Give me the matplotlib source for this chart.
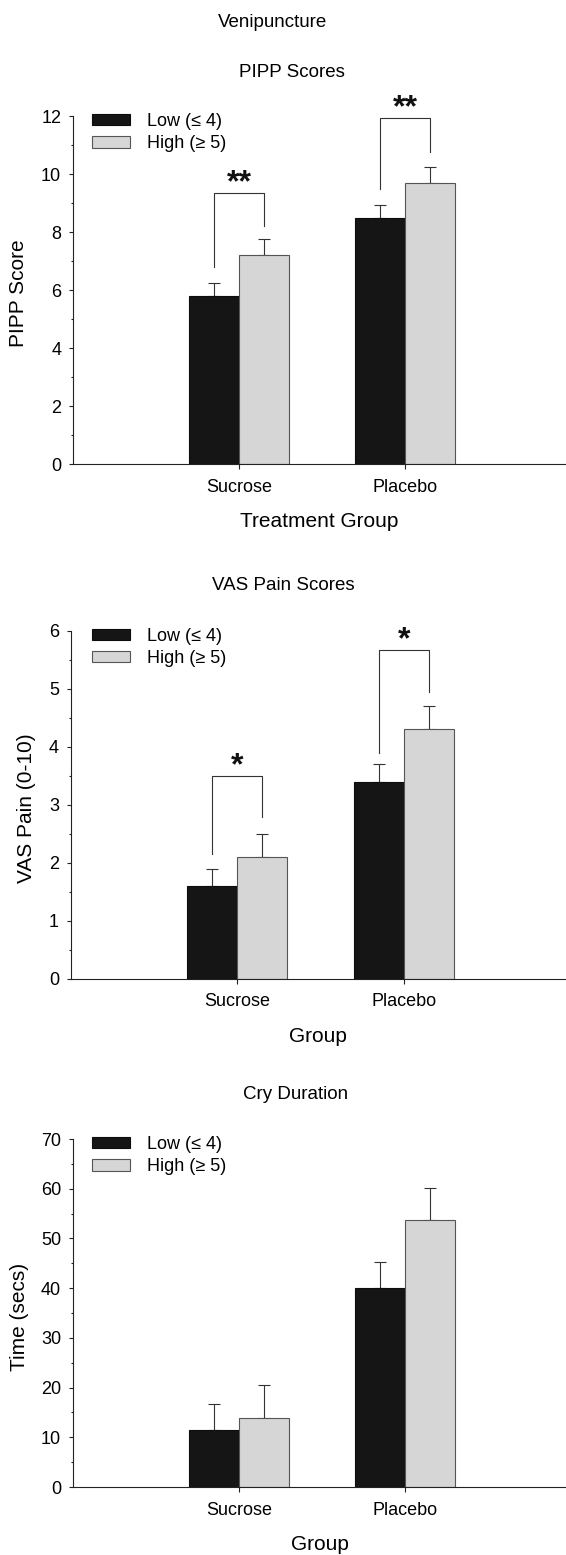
import matplotlib
matplotlib.use("Agg")
import matplotlib.pyplot as plt
from matplotlib.ticker import MultipleLocator

plt.rcParams['font.family'] = ['Liberation Sans', 'DejaVu Sans']

# ---------------- data ----------------
groups = ["Sucrose", "Placebo"]
series_labels = ["Low (\u2264 4)", "High (\u2265 5)"]

pipp_low = [5.8, 8.5]
pipp_low_err = [0.43, 0.44]
pipp_high = [7.2, 9.7]
pipp_high_err = [0.57, 0.56]
pipp_sig = ["**", "**"]
pipp_br_top = [9.33, 11.92]
pipp_br_left = [6.81, 9.48]
pipp_br_right = [8.2, 10.77]

vas_low = [1.6, 3.4]
vas_low_err = [0.3, 0.3]
vas_high = [2.1, 4.3]
vas_high_err = [0.39, 0.4]
vas_sig = ["*", "*"]
vas_br_top = [3.49, 5.67]
vas_br_left = [2.15, 3.90]
vas_br_right = [2.78, 4.95]

cry_low = [11.4, 40.0]
cry_low_err = [5.2, 5.2]
cry_high = [13.9, 53.7]
cry_high_err = [6.6, 6.5]

# ---------------- style ----------------
W, H = 566, 1555
BLACK = "#141514"
GRAY = "#d6d6d6"
EDGE_GRAY = "#555555"
AX_COL = "#222222"
LW = 0.8
BAR_W = 0.30

fig = plt.figure(figsize=(W / 100, H / 100), dpi=100)


def make_panel(left_px, top_px, bot_px, ymax, major, low, low_err, high, high_err,
               ylabel, xlabel, ylab_x_px, sig=None, br_top=None, br_left=None, br_right=None):
    ax = fig.add_axes([left_px / W, 1 - bot_px / H, (W - left_px) / W, (bot_px - top_px) / H])
    x = list(range(len(groups)))
    xl = [v - BAR_W / 2 for v in x]
    xh = [v + BAR_W / 2 for v in x]
    b1 = ax.bar(xl, low, BAR_W, color=BLACK, edgecolor="#0d0d0d", linewidth=LW,
                label=series_labels[0], zorder=2)
    b2 = ax.bar(xh, high, BAR_W, color=GRAY, edgecolor=EDGE_GRAY, linewidth=LW,
                label=series_labels[1], zorder=2)
    ax.errorbar(xl, low, yerr=[[0] * len(low), low_err], fmt="none", ecolor="#333333",
                elinewidth=LW, capsize=4, capthick=LW, zorder=1)
    ax.errorbar(xh, high, yerr=[[0] * len(high), high_err], fmt="none", ecolor="#333333",
                elinewidth=LW, capsize=4, capthick=LW, zorder=1)
    if sig is not None:
        for i in range(len(groups)):
            ax.plot([xl[i], xl[i], xh[i], xh[i]],
                    [br_left[i], br_top[i], br_top[i], br_right[i]],
                    color="#333333", lw=LW, clip_on=False, zorder=3)
            ax.annotate(sig[i], xy=((xl[i] + xh[i]) / 2, br_top[i]), xytext=(0, 1.5),
                        textcoords="offset points", ha="center", va="baseline",
                        fontsize=23, fontweight="bold", color="#111111",
                        annotation_clip=False)
    ax.set_xlim(-1.0, 1.97)
    ax.set_ylim(0, ymax)
    ax.set_xticks(x)
    ax.set_xticklabels(groups, fontsize=13)
    ax.yaxis.set_major_locator(MultipleLocator(major))
    ax.yaxis.set_minor_locator(MultipleLocator(major / 2))
    ax.tick_params(axis="y", which="major", direction="out", length=3, width=LW,
                   color=AX_COL, labelsize=13, pad=5.5)
    ax.tick_params(axis="y", which="minor", direction="out", length=1.8, width=LW, color=AX_COL)
    ax.tick_params(axis="x", which="major", direction="out", length=3.6, width=LW,
                   color=AX_COL, pad=7)
    ax.tick_params(axis="x", which="minor", length=0)
    for s in ("top", "right"):
        ax.spines[s].set_visible(False)
    for s in ("left", "bottom"):
        ax.spines[s].set_color(AX_COL)
        ax.spines[s].set_linewidth(LW)
    hpx = bot_px - top_px
    wpx = W - left_px
    ax.set_ylabel(ylabel, fontsize=15, va="center")
    ax.yaxis.set_label_coords((ylab_x_px - left_px) / wpx, 0.49)
    ax.set_xlabel(xlabel, fontsize=15, va="baseline")
    ax.xaxis.set_label_coords(0.5, -63 / hpx)
    ax.legend(handles=[b1, b2], loc="upper left",
              bbox_to_anchor=((92.3 - left_px) / wpx, 1 + 3 / hpx),
              frameon=False, fontsize=13, handlelength=2.1, handleheight=0.57,
              handletextpad=0.95, labelspacing=0.3, borderpad=0, borderaxespad=0)
    return ax


make_panel(73, 116, 464.3, 12, 2, pipp_low, pipp_low_err, pipp_high, pipp_high_err,
           "PIPP Score", "Treatment Group", 19,
           pipp_sig, pipp_br_top, pipp_br_left, pipp_br_right)
make_panel(70.7, 630.7, 978.7, 6, 1, vas_low, vas_low_err, vas_high, vas_high_err,
           "VAS Pain (0-10)", "Group", 26.7,
           vas_sig, vas_br_top, vas_br_left, vas_br_right)
make_panel(73, 1139, 1487, 70, 10, cry_low, cry_low_err, cry_high, cry_high_err,
           "Time (secs)", "Group", 20)

# titles (baseline positions in pixels)
fig.text(273 / W, 1 - 26.7 / H, "Venipuncture", ha="center", va="baseline", fontsize=13.5)
fig.text(292 / W, 1 - 77.3 / H, "PIPP Scores", ha="center", va="baseline", fontsize=13.5)
fig.text(283.5 / W, 1 - 590 / H, "VAS Pain Scores", ha="center", va="baseline", fontsize=13.5)
fig.text(295.7 / W, 1 - 1099 / H, "Cry Duration", ha="center", va="baseline", fontsize=13.5)

fig.savefig("out.png", dpi=100, facecolor="white")
